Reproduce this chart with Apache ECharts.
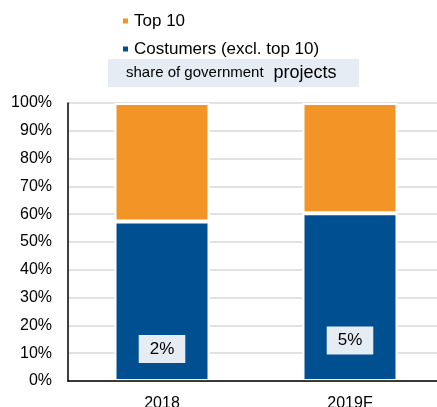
<!DOCTYPE html>
<html>
<head>
<meta charset="utf-8">
<script src="https://cdn.jsdelivr.net/npm/echarts@6/dist/echarts.min.js"></script>
<style>html,body{margin:0;padding:0;background:#fff;}#c{width:437px;height:407px;}</style>
</head>
<body>
<div id="c"></div>
<script>
var categories = ['2018', '2019F'];
var customers = [57.4, 60.3];
var top10 = [42.6, 39.7];
var shareLabels = ['2%', '5%'];
var shareLabelPos = [11.5, 14.6];
var yTicks = ['0%','10%','20%','30%','40%','50%','60%','70%','80%','90%','100%'];

var chart = echarts.init(document.getElementById('c'), null, {renderer: 'canvas'});
var font = 'Liberation Sans, Arial, sans-serif';
chart.setOption({
  animation: false,
  textStyle: {fontFamily: font},
  grid: {left: 68, right: -7, top: 103, bottom: 26, containLabel: false, outerBoundsMode: 'none'},
  legend: {
    data: ['Top 10', 'Costumers (excl. top 10)'],
    orient: 'vertical', left: 116, top: 6,
    itemWidth: 7, itemHeight: 7, itemGap: 8, icon: 'rect',
    textStyle: {fontFamily: font, fontSize: 17, color: '#000', lineHeight: 20}
  },
  graphic: [{
    type: 'text', left: 108, top: 59,
    style: {
      text: '{a|share of government}   {b|projects}',
      backgroundColor: '#E6ECF4', padding: [4, 12, 4, 18], width: 221,
      rich: {
        a: {fontFamily: font, fontSize: 15, fill: '#000', lineHeight: 20},
        b: {fontFamily: font, fontSize: 18, fill: '#000', lineHeight: 20}
      }
    }
  }],
  xAxis: {
    type: 'category', data: categories, z: 10,
    axisLine: {lineStyle: {color: '#000', width: 1.5}},
    axisTick: {show: false},
    axisLabel: {fontSize: 16, color: '#000', margin: 15, fontFamily: font}
  },
  yAxis: {
    type: 'value', min: 0, max: 100, interval: 10,
    axisLine: {show: true, lineStyle: {color: '#000', width: 1.5}},
    axisTick: {show: false},
    splitLine: {lineStyle: {color: '#D9D9D9', width: 1.5}},
    axisLabel: {fontSize: 16, color: '#000', margin: 16, fontFamily: font,
      formatter: function (v) { return yTicks[Math.round(v / 10)]; }}
  },
  series: [{
    name: 'Costumers (excl. top 10)', type: 'bar', stack: 's', data: customers,
    barWidth: 95, itemStyle: {color: '#004F90', borderColor: '#fff', borderWidth: 2}
  }, {
    name: 'Top 10', type: 'bar', stack: 's', data: top10,
    barWidth: 95, itemStyle: {color: '#F39427', borderColor: '#fff', borderWidth: 2}
  }, {
    name: 'share', type: 'scatter', symbolSize: 0, silent: true,
    itemStyle: {opacity: 1},
    data: shareLabelPos.map(function (v, i) { return [categories[i], v]; }),
    label: {
      show: true, position: 'inside', opacity: 1,
      formatter: function (p) { return shareLabels[p.dataIndex]; },
      fontSize: 17, color: '#000', fontFamily: font,
      backgroundColor: '#E6ECF4', padding: [6, 11, 5, 11]
    },
    z: 5
  }]
});
</script>
</body>
</html>
